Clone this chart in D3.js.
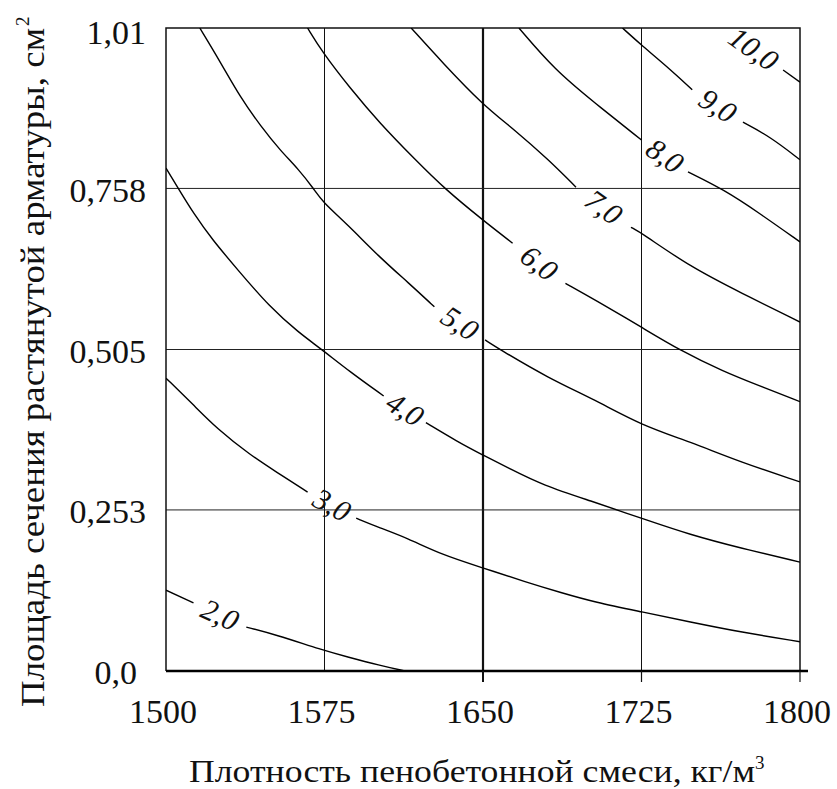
<!DOCTYPE html>
<meta charset="utf-8">
<style>
  body { margin: 0; background: #fff; }
</style>
<svg width="837" height="789"></svg>
<script src="https://cdn.jsdelivr.net/npm/d3@7/dist/d3.min.js"></script>
<script>

// contour values: [density, area]
var contour20 = [[1500,0.127],[1513,0.107],[1538,0.069],[1552,0.057],[1574,0.033],[1586,0.022],[1601,0.009],[1613,0]];
var contour30 = [[1500,0.460],[1513,0.418],[1524,0.381],[1540,0.339],[1552,0.313],[1567,0.281],[1590,0.240],[1601,0.225],[1614,0.209],[1631,0.182],[1650,0.162],[1670,0.140],[1687,0.123],[1703,0.108],[1725,0.093],[1748,0.077],[1772,0.061],[1800,0.046]];
var contour40 = [[1500,0.790],[1506,0.757],[1513,0.719],[1522,0.677],[1534,0.630],[1549,0.572],[1563,0.531],[1573,0.507],[1587,0.470],[1603,0.432],[1623,0.390],[1638,0.360],[1650,0.339],[1662,0.319],[1678,0.292],[1703,0.265],[1716,0.250],[1725,0.240],[1748,0.214],[1772,0.193],[1800,0.171]];
var contour50 = [[1516,1.010],[1526,0.955],[1535,0.902],[1545,0.855],[1554,0.818],[1563,0.787],[1570,0.757],[1574,0.737],[1586,0.701],[1601,0.650],[1615,0.609],[1627,0.572],[1651,0.520],[1657,0.507],[1681,0.460],[1703,0.426],[1725,0.386],[1748,0.360],[1772,0.328],[1800,0.297]];
var contour60 = [[1567,1.010],[1574,0.972],[1587,0.916],[1601,0.861],[1618,0.803],[1632,0.757],[1650,0.708],[1664,0.672],[1689,0.609],[1703,0.583],[1725,0.540],[1743,0.504],[1764,0.470],[1780,0.449],[1800,0.423]];
var contour70 = [[1616,1.010],[1631,0.955],[1650,0.889],[1665,0.850],[1681,0.803],[1694,0.760],[1720,0.697],[1725,0.688],[1748,0.635],[1772,0.594],[1800,0.548]];
var contour80 = [[1667,1.010],[1684,0.944],[1703,0.892],[1725,0.834],[1747,0.784],[1764,0.756],[1780,0.721],[1800,0.674]];
var contour90 = [[1716,1.010],[1725,0.983],[1739,0.944],[1749,0.913],[1773,0.862],[1786,0.839],[1800,0.803]];
var contour100 = [[1764,1.010],[1792,0.944],[1800,0.925]];

var contourLabels = ["2,0", "3,0", "4,0", "5,0", "6,0", "7,0", "8,0", "9,0", "10,0"];
// label sits in the gap after this point index
var labelGap = [1, 5, 9, 11, 7, 5, 3, 3, 0];

var xTicks = [1500, 1575, 1650, 1725, 1800];
var yTicks = [0, 0.253, 0.505, 0.758, 1.01];
var yTickLabels = ["0,0", "0,253", "0,505", "0,758", "1,01"];

var contours = [contour20, contour30, contour40, contour50, contour60, contour70, contour80, contour90, contour100];

var margin = {top: 28, right: 37, bottom: 118, left: 166},
    width = 837 - margin.left - margin.right,
    height = 789 - margin.top - margin.bottom;

var x = d3.scaleLinear().domain([1500, 1800]).range([0, width]);
var y = d3.scaleLinear().domain([0, 1.01]).range([height, 0]);

var svg = d3.select("svg").style("font-family", "'Liberation Serif'");
var g = svg.append("g").attr("transform", "translate(" + margin.left + "," + margin.top + ")");

svg.append("defs").append("clipPath").attr("id", "plot")
  .append("rect").attr("width", width).attr("height", height);

// grid
g.selectAll(".vgrid")
  .data(xTicks.slice(1, -1))
  .enter().append("line")
    .attr("x1", function(d) { return x(d); })
    .attr("x2", function(d) { return x(d); })
    .attr("y1", 0).attr("y2", height)
    .attr("stroke", "#111")
    .attr("stroke-width", function(d) { return d === 1650 ? 2.2 : 1; });

g.selectAll(".hgrid")
  .data(yTicks.slice(1, -1))
  .enter().append("line")
    .attr("x1", 0).attr("x2", width)
    .attr("y1", function(d) { return y(d); })
    .attr("y2", function(d) { return y(d); })
    .attr("stroke", "#222")
    .attr("stroke-width", 1);

// frame
g.append("path")
    .attr("d", "M0," + height + "V0H" + width + "V" + height)
    .attr("fill", "none")
    .attr("stroke", "#111")
    .attr("stroke-width", 1.5);

g.append("line")
    .attr("x1", 0).attr("x2", width + 8)
    .attr("y1", height).attr("y2", height)
    .attr("stroke", "#000")
    .attr("stroke-width", 2.5);

g.selectAll(".tick-mark")
  .data(xTicks.slice(2))
  .enter().append("line")
    .attr("x1", function(d) { return x(d); })
    .attr("x2", function(d) { return x(d); })
    .attr("y1", height).attr("y2", height + 11)
    .attr("stroke", "#111")
    .attr("stroke-width", function(d) { return d === 1650 ? 2 : 1.2; });

// contours, split where the label sits
var line = d3.line()
    .x(function(d) { return x(d[0]); })
    .y(function(d) { return y(d[1]); })
    .curve(d3.curveBasis);

var cg = g.append("g").attr("clip-path", "url(#plot)");

contours.forEach(function(pts, i) {
  var k = labelGap[i];
  [pts.slice(0, k + 1), pts.slice(k + 1)].forEach(function(seg) {
    if (seg.length < 2) return;
    cg.append("path")
        .attr("d", line(seg))
        .attr("fill", "none")
        .attr("stroke", "#000")
        .attr("stroke-width", 1.4);
  });
  var a = pts[k], b = pts[k + 1];
  var ax = x(a[0]), ay = y(a[1]), bx = x(b[0]), by = y(b[1]);
  var ang = Math.atan2(by - ay, bx - ax) * 180 / Math.PI;
  g.append("text")
      .attr("transform", "translate(" + ((ax + bx) / 2) + "," + ((ay + by) / 2) + ") rotate(" + ang + ")")
      .attr("text-anchor", "middle")
      .attr("dy", "0.33em")
      .attr("font-style", "italic")
      .attr("font-size", 30)
      .attr("fill", "#111")
      .text(contourLabels[i]);
});

// tick labels
g.selectAll(".xlab")
  .data(xTicks)
  .enter().append("text")
    .attr("x", function(d) { return x(d) - 3; })
    .attr("y", height + 52)
    .attr("text-anchor", "middle")
    .attr("font-size", 34)
    .attr("fill", "#111")
    .text(function(d) { return d; });

g.selectAll(".ylab")
  .data(yTicks)
  .enter().append("text")
    .attr("x", function(d) { return d === 0 ? -29 : -20; })
    .attr("y", function(d, i) { return y(d) + (i === 4 ? 5 : 2); })
    .attr("dy", "0.33em")
    .attr("text-anchor", "end")
    .attr("font-size", 34)
    .attr("fill", "#111")
    .text(function(d, i) { return yTickLabels[i]; });

// axis titles
var xt = svg.append("text")
    .attr("x", 189)
    .attr("y", 782)
    .attr("font-size", 32)
    .attr("fill", "#111");
xt.append("tspan")
    .attr("textLength", 566)
    .attr("lengthAdjust", "spacingAndGlyphs")
    .text("Плотность пенобетонной смеси, кг/м");
xt.append("tspan").attr("font-size", 19).attr("dy", -13).text("3");

var yt = svg.append("text")
    .attr("transform", "translate(44,707) rotate(-90)")
    .attr("font-size", 33)
    .attr("fill", "#111");
yt.append("tspan")
    .attr("textLength", 679)
    .attr("lengthAdjust", "spacingAndGlyphs")
    .text("Площадь сечения растянутой арматуры, см");
yt.append("tspan").attr("font-size", 19).attr("dy", -15).attr("dx", 2).text("2");

</script>
